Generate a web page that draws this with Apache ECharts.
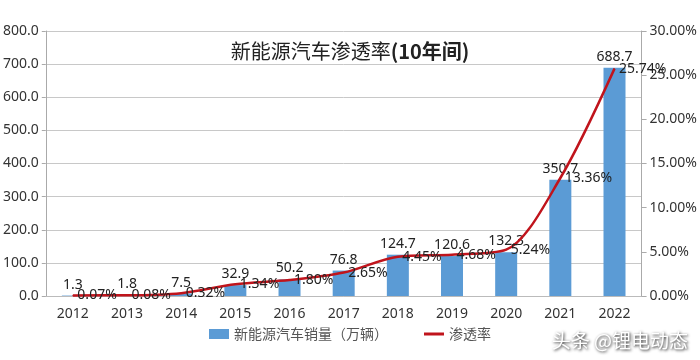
<!DOCTYPE html>
<html><head><meta charset="utf-8">
<script src="https://cdn.jsdelivr.net/npm/echarts@6/dist/echarts.min.js"></script>
<style>html,body{margin:0;padding:0;background:#fff}#c{width:700px;height:360px}</style>
</head><body><div id="c"></div>
<script>
var years = ['2012','2013','2014','2015','2016','2017','2018','2019','2020','2021','2022'];
var sales = [1.3,1.8,7.5,32.9,50.2,76.8,124.7,120.6,132.3,350.7,688.7];
var rate = [0.07,0.08,0.32,1.34,1.80,2.65,4.45,4.68,5.24,13.36,25.74];
var salesName = '新能源汽车销量（万辆）';
var rateName = '渗透率';
var titleMain = '新能源汽车渗透率';
var titleSub = '(10年间)';
var font = '"Noto Sans", "Noto Sans CJK SC", sans-serif';
var chart = echarts.init(document.getElementById('c'));
chart.setOption({
  animation:false,
  backgroundColor:'#fff',
  textStyle:{fontFamily:font},
  title:{text:'{a|'+titleMain+'}{b|'+titleSub+'}',left:'center',top:36,
    textStyle:{rich:{
      a:{fontSize:20,fontWeight:'normal',color:'#222',fontFamily:'"Noto Sans CJK SC", serif'},
      b:{fontSize:20,fontWeight:'bold',color:'#222',fontFamily:'"Noto Sans CJK SC", sans-serif'}}}},
  legend:{bottom:14,left:'center',itemGap:36,itemWidth:20,itemHeight:10,textStyle:{fontSize:14,color:'#555',fontFamily:'"Noto Sans CJK SC", sans-serif'},
    data:[{name:salesName,icon:'rect'},{name:rateName,icon:'path://M0,0 L20,0 L20,3 L0,3Z'}]},
  grid:{left:45,right:58,top:31,bottom:64},
  xAxis:{type:'category',data:years,axisTick:{show:false},axisLine:{lineStyle:{color:'#bbb'}},
    axisLabel:{fontSize:14,color:'#333',margin:11}},
  yAxis:[
    {type:'value',min:0,max:800,interval:100,axisLine:{show:true,lineStyle:{color:'#aaa'}},axisTick:{show:true,length:4,lineStyle:{color:'#aaa'}},
     splitLine:{lineStyle:{color:'#c8c8c8'}},axisLabel:{fontSize:14,color:'#333',margin:7,formatter:function(v){return v.toFixed(1);}}},
    {type:'value',min:0,max:30,interval:5,position:'right',axisLine:{show:true,lineStyle:{color:'#aaa'}},axisTick:{show:true,length:5,lineStyle:{color:'#aaa'}},
     splitLine:{show:false},axisLabel:{fontSize:14,color:'#333',margin:8,formatter:function(v){return v.toFixed(2)+'%';}}}
  ],
  series:[
    {name:salesName,type:'bar',data:sales,barWidth:22,itemStyle:{color:'#5b9bd5'},
     label:{show:true,position:'top',distance:4,fontSize:14,color:'#222',formatter:function(p){return p.value.toFixed(1);}}},
    {name:rateName,type:'line',yAxisIndex:1,data:rate,smooth:0.3,symbol:'circle',symbolSize:1,showSymbol:true,
     lineStyle:{color:'#c0141c',width:2.5},itemStyle:{color:'#c0141c'},
     label:{show:true,position:'right',distance:4,fontSize:14,color:'#222',formatter:function(p){return p.value.toFixed(2)+'%';}}}
  ],
  graphic:[{type:'text',right:12,bottom:10,style:{text:'头条 @锂电动态',fontSize:19,fill:'#fff',fontFamily:'"Noto Sans CJK SC", sans-serif',
    textShadowColor:'rgba(0,0,0,0.9)',textShadowBlur:3,textShadowOffsetX:1,textShadowOffsetY:1}}]
});
</script></body></html>
